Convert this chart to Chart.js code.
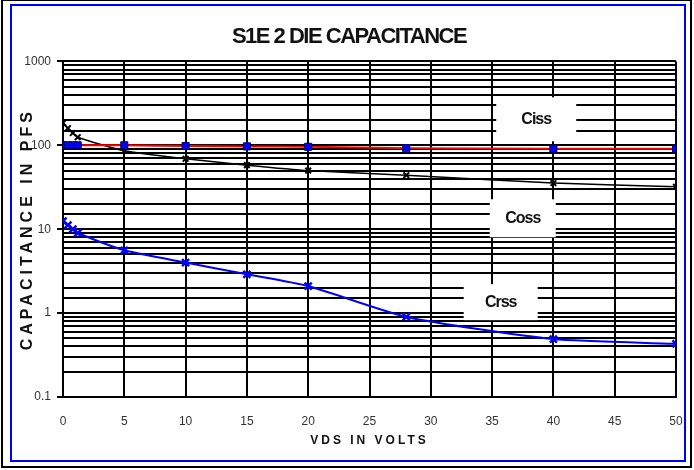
<!DOCTYPE html>
<html>
<head>
<meta charset="utf-8">
<script src="https://cdn.jsdelivr.net/npm/chart.js@4.4.1/dist/chart.umd.min.js"></script>
<style>
  body { margin: 0; background: #fff; }
  #wrap { width: 694px; height: 470px; }
</style>
</head>
<body>
<div id="wrap"><canvas id="myChart" width="694" height="470"></canvas></div>
<script>
// VDS in volts and the three capacitances in pF
const vds  = [0, 0.4, 0.8, 1.2, 5, 10, 15, 20, 28, 40, 50];
const ciss = [100, 100, 100, 100, 100, 98, 97, 96, 92, 91, 91];
const coss = [185, 160, 140, 125, 86, 69, 58, 50, 44, 35.5, 32];
const crss = [12.5, 11.2, 10, 9, 5.6, 4.0, 2.9, 2.1, 0.9, 0.49, 0.43];
const seriesNames = ['Ciss', 'Coss', 'Crss'];
const yTickLabels = [0.1, 1, 10, 100, 1000];

const toPoints = (ys) => vds.map((x, i) => ({ x: x, y: ys[i] }));

// where the series name boxes sit, in data units
const nameBoxes = [
    { x: 38.6, y: 204, w: 80, h: 44 },
    { x: 37.5, y: 13.5, w: 66, h: 38 },
    { x: 35.7, y: 1.35, w: 74, h: 36 },
];

const frame = {
    id: 'frame',
    beforeDraw(chart) {
        const c = chart.ctx;
        c.save();
        c.fillStyle = '#fff';
        c.fillRect(0, 0, chart.width, chart.height);
        c.lineWidth = 2;
        c.strokeStyle = '#000';
        c.strokeRect(2, 0, 689, 467);
        c.strokeStyle = '#0000ff';
        c.strokeRect(11, 5, 674, 456);
        c.restore();

        // letter spacing for the titles
        const wrap = (obj, fn, sp) => {
            if (!obj || obj[fn]._spaced) return;
            const orig = obj[fn];
            obj[fn] = function (...a) {
                this.ctx.save();
                this.ctx.letterSpacing = sp;
                orig.apply(this, a);
                this.ctx.restore();
            };
            obj[fn]._spaced = true;
        };
        wrap(chart.scales.x, 'drawTitle', '3px');
        wrap(chart.scales.y, 'drawTitle', '4px');
        wrap(chart.titleBlock, 'draw', '-1.5px');
    },
    beforeDatasetsDraw(chart) {
        const c = chart.ctx;
        const sx = chart.scales.x, sy = chart.scales.y;
        c.save();
        c.font = 'bold 16px "Liberation Sans", Arial, sans-serif';
        c.letterSpacing = '-1px';
        c.textAlign = 'center';
        c.textBaseline = 'middle';
        nameBoxes.forEach((b, i) => {
            const px = sx.getPixelForValue(b.x);
            const py = sy.getPixelForValue(b.y);
            c.fillStyle = '#fff';
            c.fillRect(px - b.w / 2, py - b.h / 2, b.w, b.h);
            c.fillStyle = '#111';
            c.fillText(seriesNames[i], px, py);
        });
        c.restore();
    }
};

const data = {
    datasets: [{
        label: seriesNames[0],
        data: toPoints(ciss),
        borderColor: '#ff0000',
        borderWidth: 2,
        pointStyle: 'rect',
        pointRadius: 5,
        pointBackgroundColor: '#0000ff',
        pointBorderColor: '#000060',
        pointBorderWidth: 1,
        tension: 0.2,
    }, {
        label: seriesNames[1],
        data: toPoints(coss),
        borderColor: '#000',
        borderWidth: 1.5,
        pointStyle: 'crossRot',
        pointRadius: 4,
        pointBorderColor: '#000',
        pointBorderWidth: 2,
        tension: 0.2,
    }, {
        label: seriesNames[2],
        data: toPoints(crss),
        borderColor: '#0000ff',
        borderWidth: 2,
        pointStyle: 'crossRot',
        pointRadius: 5,
        pointBorderColor: '#0000ff',
        pointBorderWidth: 2.5,
        tension: 0.2,
    }],
};

const config = {
    type: 'line',
    data: data,
    options: {
        responsive: false,
        animation: false,
        layout: { padding: { left: 22, right: 18, top: 0, bottom: 20 } },
        plugins: {
            legend: { display: false },
            tooltip: { enabled: false },
            title: {
                display: true,
                text: 'S1E 2 DIE CAPACITANCE',
                color: '#111',
                font: { family: '"Liberation Sans", Arial, sans-serif', size: 22, weight: 'bold' },
                padding: { top: 24, bottom: 11 },
            }
        },
        scales: {
            x: {
                type: 'linear',
                min: 0,
                max: 50,
                afterFit: (s) => { s.height = 53; },
                grid: { color: '#000', lineWidth: 2, tickLength: 15, tickColor: 'rgba(0,0,0,0)' },
                border: { color: '#000', width: 2 },
                ticks: {
                    stepSize: 5,
                    padding: 2,
                    color: '#333',
                    font: { family: '"Liberation Sans", Arial, sans-serif', size: 12 },
                },
                title: {
                    display: true,
                    text: 'VDS IN VOLTS',
                    color: '#111',
                    font: { family: '"Liberation Sans", Arial, sans-serif', size: 12, weight: 'bold' },
                    padding: { top: 0, bottom: 2 },
                }
            },
            y: {
                type: 'logarithmic',
                min: 0.1,
                max: 1000,
                afterFit: (s) => { s.width = 41; },
                grid: {
                    color: '#000',
                    lineWidth: 2,
                    tickLength: 6,
                    tickColor: (ctx) => yTickLabels.includes(ctx.tick && ctx.tick.value) ? '#000' : 'rgba(0,0,0,0)',
                },
                border: { color: '#000', width: 2 },
                ticks: {
                    autoSkip: false,
                    padding: 6,
                    color: '#333',
                    font: { family: '"Liberation Sans", Arial, sans-serif', size: 12 },
                    callback: (v) => yTickLabels.includes(v) ? String(v) : '',
                },
                title: {
                    display: true,
                    text: 'CAPACITANCE IN PFS',
                    color: '#111',
                    font: { family: '"Liberation Sans", Arial, sans-serif', size: 16, weight: 'bold' },
                    padding: { top: -4, bottom: 0 },
                }
            }
        }
    },
    plugins: [frame],
};

const ctx = document.getElementById('myChart').getContext('2d');
const myChart = new Chart(ctx, config);
myChart.draw();
</script>
</body>
</html>
